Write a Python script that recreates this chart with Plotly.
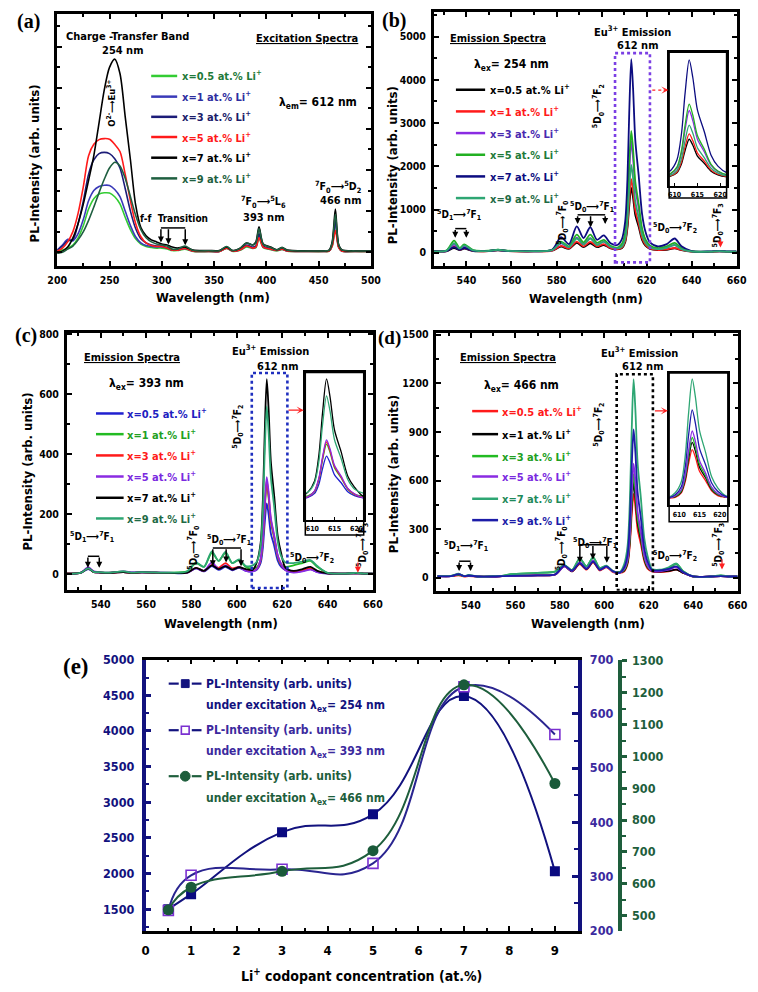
import plotly.graph_objects as go

FW, FH = 758, 992
def X(px): return px / FW
def Y(py): return 1 - py / FH

SANS = "DejaVu Sans Condensed, DejaVu Sans, sans-serif"
SERIF = "Liberation Serif, DejaVu Serif, serif"

# ---------------- data ----------------
LI = ["0.5", "1", "3", "5", "7", "9"]

# (a) excitation spectra, lambda_em = 612 nm
EXC_WL = [200, 205, 210, 215, 220, 225, 230, 235, 240, 245, 250, 255, 260, 265, 270, 275, 280, 285, 290, 295,
          300, 305, 310, 315, 322, 330, 345, 355, 362, 368, 375, 381, 387, 390, 393, 397, 404, 410, 415, 420,
          440, 455, 460, 463, 466, 469, 472, 485, 500]
A_X05 = [0.5, 1, 2, 3.5, 7, 13, 21, 26, 28.3, 28.9, 28.8, 27, 23.5, 17, 11, 6.5, 4, 2.8, 2.3, 2,
         2, 1.6, 0.8, 0.8, 1.5, 0.4, 0.3, 0.3, 1.8, 0.4, 1, 2.5, 1.8, 2.2, 7, 2.2, 1.3, 0.7, 1.3, 0.5,
         0.3, 0.3, 0.5, 3, 15, 2.5, 0.5, 0.3, 0.3]
A_X1 = [1, 3.5, 6.3, 5.5, 9, 16, 25, 30, 32, 32.6, 32.5, 30.5, 27, 20, 13, 7.5, 4.5, 3.2, 2.8, 2.5,
        2.5, 2, 1, 1, 1.8, 0.5, 0.4, 0.4, 2, 0.5, 1.2, 3, 2, 2.5, 8, 2.5, 1.5, 0.8, 1.5, 0.6,
        0.4, 0.4, 0.6, 3.5, 15, 2.8, 0.6, 0.4, 0.4]
A_X3 = [1, 3, 5.5, 6, 14, 25, 38, 45, 48, 48.6, 48, 45.5, 41, 31, 20, 11.5, 6.5, 4.5, 3.5, 3,
        3, 2.2, 1.2, 1.2, 2, 0.6, 0.5, 0.5, 2.2, 0.6, 1.5, 3.5, 2.5, 3, 9, 3, 1.8, 1, 1.8, 0.7,
        0.5, 0.5, 0.7, 4, 16, 3, 0.7, 0.5, 0.5]
A_X5 = [0.5, 2, 5, 10, 19, 32, 47, 52.5, 54.8, 55.3, 55, 52.5, 49, 38, 25, 14, 7.5, 4.5, 3.2, 2.8,
        2.8, 2, 1, 1, 1.8, 0.5, 0.4, 0.4, 2, 0.5, 1.2, 3, 2, 2.5, 7, 2.5, 1.5, 0.8, 1.5, 0.6,
        0.4, 0.4, 0.6, 3, 10.5, 2.5, 0.6, 0.4, 0.4]
A_X7 = [-0.5, 0.5, 2.5, 7, 14, 23.5, 35, 47, 63, 79, 90, 94, 87, 66, 45, 23, 12, 8, 6, 5,
        4, 3.5, 2.5, 2, 2.5, 1, 0.8, 0.8, 2.5, 0.8, 2, 4.5, 3.5, 5, 12.3, 4, 2.5, 1.2, 2.2, 1,
        0.6, 0.6, 1, 5, 21, 4, 1.2, 0.6, 0.6]
A_X9 = [-0.5, 0, 1.5, 3, 6, 10, 15.5, 22, 29, 35.5, 41, 43.8, 42, 36, 27, 18, 11, 7, 5, 4,
        3.5, 3, 1.5, 1.5, 3, 0.8, 0.7, 0.7, 2.8, 0.7, 2, 4.5, 3.5, 4.5, 11.5, 3.8, 2.3, 1.1, 2.2, 0.9,
        0.6, 0.6, 0.9, 4.5, 18.5, 3.8, 1.1, 0.6, 0.6]

# emission spectra wavelength grid (b, c, d)
EM_WL = [525, 531, 534.5, 537, 539, 543, 550, 554, 558, 570, 578, 582, 585.5, 589, 592, 595, 598, 601, 604, 607,
         609, 610.5, 611.5, 612.3, 613.2, 614, 615, 616.5, 618, 619.5, 621.5, 625, 629, 632.5, 635.5, 640, 648,
         652.5, 656, 660]
# (b) lambda_ex = 254 nm
B_X05 = [30, 35, 110, 60, 95, 40, 40, 55, 40, 30, 50, 140, 90, 230, 130, 220, 130, 180, 100, 80,
         105, 240, 570, 1080, 1500, 1275, 870, 600, 300, 165, 90, 60, 70, 100, 60, 25, 20, 30, 20, 20]
B_X1 = [30, 35, 150, 70, 110, 45, 40, 60, 40, 30, 50, 160, 100, 260, 150, 250, 150, 200, 110, 85,
        120, 270, 650, 1225, 1700, 1445, 985, 680, 340, 185, 100, 65, 80, 110, 65, 25, 20, 30, 20, 20]
B_X3 = [35, 40, 190, 85, 140, 50, 45, 65, 45, 35, 60, 220, 130, 350, 200, 340, 190, 260, 140, 110,
        180, 410, 980, 1860, 2580, 2190, 1500, 1030, 520, 285, 150, 90, 120, 180, 90, 30, 25, 35, 25, 25]
B_X5 = [40, 50, 280, 110, 195, 60, 50, 75, 50, 40, 70, 260, 150, 420, 240, 420, 230, 300, 160, 120,
        200, 450, 1070, 2030, 2820, 2400, 1640, 1130, 560, 310, 170, 110, 150, 230, 110, 35, 25, 40, 25, 25]
B_X7 = [35, 40, 130, 70, 110, 45, 45, 60, 45, 40, 70, 360, 200, 610, 340, 590, 300, 400, 220, 180,
        310, 720, 1700, 3230, 4480, 3810, 2600, 1790, 900, 490, 240, 150, 200, 330, 150, 40, 30, 45, 30, 30]
B_X9 = [35, 45, 220, 95, 170, 55, 45, 70, 45, 35, 60, 230, 130, 330, 190, 330, 180, 260, 140, 100,
        140, 325, 770, 1460, 2030, 1725, 1180, 810, 410, 225, 120, 85, 115, 180, 85, 30, 25, 35, 25, 25]
# (c) lambda_ex = 393 nm
C_X05 = [3, 5, 18, 8, 6, 5, 8, 5, 6, 5, 5, 20, 10, 28, 15, 25, 14, 22, 12, 10,
         17, 38, 90, 171, 237, 201, 137, 95, 47, 26, 14, 8, 12, 18, 8, 3, 3, 4, 3, 3]
C_X1 = [3, 5, 20, 8, 8, 6, 10, 6, 8, 6, 10, 38, 25, 72, 45, 72, 38, 48, 25, 20,
        25, 48, 115, 217, 302, 257, 175, 121, 60, 33, 25, 30, 38, 45, 25, 5, 3, 5, 3, 3]
C_X3 = [4, 5, 20, 8, 7, 5, 8, 5, 7, 5, 6, 22, 12, 32, 22, 38, 20, 25, 14, 12,
        20, 50, 119, 225, 313, 266, 182, 125, 63, 34, 15, 10, 14, 20, 10, 4, 3, 4, 3, 3]
C_X5 = [3, 5, 24, 10, 8, 6, 10, 8, 8, 6, 6, 20, 12, 40, 18, 30, 16, 24, 12, 10,
        20, 52, 123, 233, 324, 275, 188, 130, 65, 36, 14, 6, 10, 16, 8, 4, 3, 4, 3, 3]
C_X7 = [3, 5, 20, 8, 7, 5, 8, 5, 7, 5, 6, 22, 12, 30, 18, 28, 16, 24, 18, 15,
        45, 105, 250, 470, 650, 553, 377, 260, 130, 72, 22, 12, 18, 25, 12, 4, 3, 4, 3, 3]
C_X9 = [3, 5, 20, 8, 8, 6, 10, 6, 8, 6, 10, 40, 25, 77, 45, 75, 38, 50, 28, 30,
        45, 95, 215, 405, 560, 476, 325, 225, 112, 62, 40, 38, 43, 48, 28, 5, 3, 5, 3, 3]
# (d) lambda_ex = 466 nm
D_X05 = [10, 10, 15, 8, 10, 8, 8, 10, 12, 15, 20, 70, 40, 85, 50, 95, 45, 65, 35, 30,
         40, 85, 200, 375, 518, 440, 300, 207, 104, 57, 40, 35, 40, 50, 30, 8, 8, 10, 8, 8]
D_X1 = [10, 10, 20, 10, 12, 8, 8, 10, 12, 15, 20, 72, 40, 90, 55, 100, 50, 68, 40, 35,
        45, 95, 225, 425, 589, 500, 342, 235, 118, 65, 42, 38, 42, 50, 30, 8, 8, 10, 8, 8]
D_X3 = [10, 12, 20, 10, 15, 8, 10, 12, 22, 30, 40, 78, 48, 118, 70, 125, 60, 72, 40, 32,
        50, 105, 245, 460, 639, 543, 370, 255, 128, 70, 45, 45, 60, 85, 40, 8, 8, 15, 8, 8]
D_X5 = [10, 10, 22, 10, 14, 8, 8, 10, 12, 15, 20, 70, 42, 95, 60, 105, 50, 68, 38, 30,
        55, 115, 270, 505, 704, 598, 408, 282, 141, 77, 42, 40, 50, 65, 35, 8, 8, 10, 8, 8]
D_X7 = [10, 12, 25, 10, 18, 8, 10, 12, 22, 30, 38, 78, 48, 120, 70, 125, 60, 75, 40, 35,
        85, 195, 465, 880, 1225, 1040, 710, 490, 245, 135, 55, 50, 65, 88, 40, 8, 8, 15, 8, 8]
D_X9 = [10, 10, 22, 10, 14, 8, 8, 10, 12, 15, 22, 75, 45, 90, 55, 100, 50, 70, 40, 32,
        65, 145, 350, 660, 915, 778, 530, 366, 183, 100, 48, 45, 55, 70, 35, 8, 8, 10, 8, 8]

# (e) peak intensity vs Li+ concentration
E_LI = [0.5, 1, 3, 5, 7, 9]
E_254 = [1500, 1710, 2580, 2830, 4490, 2030]
E_393 = [237, 302, 313, 324, 650, 562]
E_466 = [518, 589, 639, 704, 1225, 915]

# colours
A_COL = ['#33cc33', '#3a3ab8', '#1c1c78', '#ff1a1a', '#000000', '#1f5f40']
A_TXT = ['#1f7a3a', '#2e2ea0', '#1c1c6a', '#ff1a1a', '#000000', '#1f5f40']
B_COL = ['#000000', '#ff1a1a', '#8a2be2', '#22b022', '#0c0c80', '#2ea673']
B_TXT = ['#000000', '#ff1a1a', '#4a2ab0', '#1f7a3a', '#0c0c80', '#1f6a45']
C_COL = ['#2020d0', '#22bb22', '#ff1a1a', '#8a2be2', '#000000', '#2ea673']
C_TXT = ['#2020c0', '#22a022', '#ff1a1a', '#7a2ae0', '#000000', '#1f6a45']
D_COL = ['#ff1a1a', '#000000', '#22bb22', '#8a2be2', '#2ea673', '#1c1ca8']
D_TXT = ['#ff1a1a', '#000000', '#22a022', '#7a2ae0', '#1f8a5a', '#1c1ca8']
NAVY = '#12127e'
INDIGO = '#3b2a9e'
DKGREEN = '#1e5e3c'

fig = go.Figure()

def add_spectra(wl, series, colors, xa, ya, width=1.8):
    for s, c in zip(series, colors):
        fig.add_trace(go.Scatter(x=wl, y=s, mode='lines',
                                 line=dict(color=c, width=width, shape='spline', smoothing=0.8),
                                 xaxis=xa, yaxis=ya, showlegend=False, hoverinfo='skip'))

A_SER = [A_X05, A_X1, A_X3, A_X5, A_X7, A_X9]
B_SER = [B_X05, B_X1, B_X3, B_X5, B_X7, B_X9]
C_SER = [C_X05, C_X1, C_X3, C_X5, C_X7, C_X9]
D_SER = [D_X05, D_X1, D_X3, D_X5, D_X7, D_X9]

add_spectra(EXC_WL, A_SER, A_COL, 'x', 'y', 1.6)
add_spectra(EM_WL, B_SER, B_COL, 'x2', 'y2', 1.8)
add_spectra(EM_WL, C_SER, C_COL, 'x3', 'y3', 1.8)
add_spectra(EM_WL, D_SER, D_COL, 'x4', 'y4', 1.8)
add_spectra(EM_WL, B_SER, B_COL, 'x6', 'y6', 1.3)
add_spectra(EM_WL, C_SER, C_COL, 'x7', 'y7', 1.3)
add_spectra(EM_WL, D_SER, D_COL, 'x8', 'y8', 1.3)

fig.add_trace(go.Scatter(x=E_LI, y=E_254, mode='lines+markers', xaxis='x5', yaxis='y5',
                         line=dict(color=NAVY, width=2, shape='spline', smoothing=1.3),
                         marker=dict(symbol='square', size=10, color='#0a0a80'), showlegend=False))
fig.add_trace(go.Scatter(x=E_LI, y=E_393, mode='lines+markers', xaxis='x5', yaxis='y9',
                         line=dict(color='#2a2590', width=2, shape='spline', smoothing=1.3),
                         marker=dict(symbol='square-open', size=10, color='#7a30d0', line=dict(width=1.6)),
                         showlegend=False))
fig.add_trace(go.Scatter(x=E_LI, y=E_466, mode='lines+markers', xaxis='x5', yaxis='y10',
                         line=dict(color=DKGREEN, width=2, shape='spline', smoothing=1.3),
                         marker=dict(symbol='circle', size=11, color='#1a5a3a'), showlegend=False))

# ---------------- axes ----------------
def tf(size=10.5, color='black'):
    return dict(family=SANS, size=size, color=color, weight='bold')

def frame(domain, rng, dtick, mdtick, anchor, labels=True, size=10.5, tick0=0, lw=2.5):
    return dict(domain=domain, range=rng, anchor=anchor, showline=True, linewidth=lw, linecolor='black',
                mirror='ticks', ticks='inside', ticklen=5, tickwidth=2, tickcolor='black',
                dtick=dtick, tick0=tick0, showgrid=False, zeroline=False, showticklabels=labels,
                tickfont=tf(size), ticklabelstandoff=3,
                minor=dict(ticks='inside', ticklen=3, tickwidth=1.5, tickcolor='black', dtick=mdtick, showgrid=False))

def inset_x(domain, rng, anchor):
    return dict(domain=domain, range=rng, anchor=anchor, showline=True, linewidth=1.5, linecolor='black',
                mirror=True, ticks='inside', ticklen=3, tickwidth=1.2, tickcolor='black', dtick=5, tick0=0,
                showgrid=False, zeroline=False, tickfont=tf(7), ticklabelstandoff=1)

def inset_y(domain, rng, anchor):
    return dict(domain=domain, range=rng, anchor=anchor, showline=True, linewidth=1.5, linecolor='black',
                mirror=True, ticks='', showticklabels=False, showgrid=False, zeroline=False)

layout = dict(
    width=FW, height=FH, margin=dict(l=0, r=0, t=0, b=0),
    paper_bgcolor='white', plot_bgcolor='white', showlegend=False,
    font=dict(family=SANS, size=11, color='black', weight='bold'),
    xaxis=frame([X(48.5), X(370.7)], [200, 500], 50, 25, 'y'),
    yaxis=frame([Y(261.7), Y(6)], [-6.6, 116], 20, 10, 'x', labels=False),
    xaxis2=frame([X(435.3), X(746.3)], [525.5, 660], 20, 10, 'y2'),
    yaxis2=frame([Y(261.7), Y(4)], [-300, 5570], 1000, 500, 'x2'),
    xaxis3=frame([X(58.3), X(372.7)], [525, 660], 20, 10, 'y3'),
    yaxis3=frame([Y(591), Y(330)], [-52, 804], 200, 100, 'x3'),
    xaxis4=frame([X(438), X(747.3)], [524.5, 660], 20, 10, 'y4'),
    yaxis4=frame([Y(591.7), Y(330)], [-80, 1510], 300, 150, 'x4'),
    xaxis5=frame([X(139.3), X(583)], [0, 9.5], 1, 0.5, 'y5', size=13),
    xaxis6=inset_x([X(677), X(736)], [608.8, 621.4], 'y6'),
    yaxis6=inset_y([Y(180.7), Y(45)], [-255, 4765], 'x6'),
    xaxis7=inset_x([X(303.3), X(363.3)], [608.4, 621.6], 'y7'),
    yaxis7=inset_y([Y(520), Y(370)], [-105, 685], 'x7'),
    xaxis8=inset_x([X(677), X(737.3)], [607.5, 622], 'y8'),
    yaxis8=inset_y([Y(505), Y(370.7)], [-41, 1284], 'x8'),
)
layout['xaxis5']['ticklabelstandoff'] = 6
layout['yaxis5'] = dict(domain=[Y(936.7), Y(661.7)], anchor='x5', range=[1200, 5000], dtick=500, tick0=0,
                        showline=True, linewidth=3.5, linecolor=NAVY, ticks='inside', ticklen=6, tickwidth=2.5,
                        tickcolor=NAVY, showgrid=False, zeroline=False, tickfont=tf(12.5, NAVY),
                        ticklabelstandoff=5,
                        minor=dict(ticks='inside', ticklen=4, tickwidth=2, tickcolor=NAVY, dtick=250))
layout['yaxis9'] = dict(overlaying='y5', side='right', anchor='x5', range=[200, 700], dtick=100, tick0=0,
                        showline=True, linewidth=3.5, linecolor=NAVY, ticks='inside', ticklen=6, tickwidth=2.5,
                        tickcolor=NAVY, showgrid=False, zeroline=False, tickfont=tf(12.5, INDIGO),
                        ticklabelstandoff=6,
                        minor=dict(ticks='inside', ticklen=4, tickwidth=2, tickcolor=NAVY, dtick=50))
layout['yaxis10'] = dict(overlaying='y5', side='right', anchor='free', position=X(626.3), range=[453, 1304],
                         dtick=100, tick0=0, showline=True, linewidth=3.5, linecolor=DKGREEN, ticks='outside',
                         ticklen=5, tickwidth=2.5, tickcolor=DKGREEN, showgrid=False, zeroline=False,
                         tickfont=tf(12.5, DKGREEN), ticklabelstandoff=3,
                         minor=dict(ticks='outside', ticklen=4, tickwidth=2, tickcolor=DKGREEN, dtick=50))

annotations = []
shapes = []

def txt(s, px, py, size=11, color='black', angle=0, xanchor='center', family=SANS):
    annotations.append(dict(text=s, x=X(px), y=Y(py), xref='paper', yref='paper', showarrow=False,
                            font=dict(family=family, size=size, color=color, weight='bold'),
                            textangle=angle, xanchor=xanchor, yanchor='middle'))

def arrow(hx, hy, tx, ty, color='black', width=1.2, head=2, size=1.0):
    annotations.append(dict(text='', x=X(hx), y=Y(hy), ax=tx - hx, ay=ty - hy, xref='paper', yref='paper',
                            axref='pixel', ayref='pixel', showarrow=True, arrowhead=head, arrowsize=size,
                            arrowwidth=width, arrowcolor=color))

def seg(x0, y0, x1, y1, color='black', width=1.5, dash='solid'):
    shapes.append(dict(type='line', xref='paper', yref='paper', x0=X(x0), y0=Y(y0), x1=X(x1), y1=Y(y1),
                       line=dict(color=color, width=width, dash=dash)))

def prect(x0, y0, x1, y1, color='black', width=1.5, fill='rgba(0,0,0,0)', kind='rect'):
    shapes.append(dict(type=kind, xref='paper', yref='paper', x0=X(x0), y0=Y(y0), x1=X(x1), y1=Y(y1),
                       line=dict(color=color, width=width), fillcolor=fill))

def bracket(xs, ytop, ybots, width=1.5):
    seg(xs[0], ytop, xs[-1], ytop, width=width)
    for x, yb in zip(xs, ybots):
        arrow(x, yb, x, ytop, width=width, head=2, size=0.8)

def legend_block(x0, x1, tx, ys, cols, tcols, size=11):
    for y, c, tc, li in zip(ys, cols, tcols, LI):
        seg(x0, y, x1, y, c, 2.5)
        txt(f"x={li} at.% Li<sup>+</sup>", tx, y, size, tc, xanchor='left')

ARR = '⟶'
D5F = lambda n: f"<sup>5</sup>D<sub>0</sub>{ARR}<sup>7</sup>F<sub>{n}</sub>"
D1F1 = f"<sup>5</sup>D<sub>1</sub>{ARR}<sup>7</sup>F<sub>1</sub>"

# ---- panel (a)
txt('(a)', 19, 14, 20, family=SERIF)
txt('Charge -Transfer Band', 120.5, 29.3, 11)
txt('254 nm', 116, 43.3, 11)
txt('<u>Excitation Spectra</u>', 305.5, 30.7, 11)
txt('λ<sub>em</sub>= 612 nm', 316.5, 96, 12)
txt(f"O<sup>2-</sup>{ARR}Eu<sup>3+</sup>", 104.3, 96.7, 9.5, angle=-90)
legend_block(145, 171.7, 175, [69, 90, 110.5, 131, 152, 173], A_COL, A_TXT)
txt('f-f  Transition', 168, 213.3, 10)
bracket([155, 162.7, 180], 223.3, [238, 240, 241])
txt(f"<sup>7</sup>F<sub>0</sub>{ARR}<sup>5</sup>L<sub>6</sub>", 260, 196.7, 10.5)
txt('393 nm', 260, 213, 11)
txt(f"<sup>7</sup>F<sub>0</sub>{ARR}<sup>5</sup>D<sub>2</sub>", 337, 181.7, 10.5)
txt('466 nm', 339, 195, 11)
txt('PL-Intensity (arb. units)', 25.5, 158, 13, angle=-90)
txt('Wavelength (nm)', 209, 294, 13)

# ---- panel (b)
txt('(b)', 394, 13, 20, family=SERIF)
txt('<u>Emission Spectra</u>', 501, 30.7, 11)
txt('λ<sub>ex</sub>= 254 nm', 515, 58.3, 12)
legend_block(458, 488, 491.3, [83, 105, 127, 149, 171, 193], B_COL, B_TXT)
txt('Eu<sup>3+</sup> Emission', 639, 24, 11)
txt('612 nm', 644, 38, 11)
txt(D5F(2), 604.7, 100, 10, angle=-90)
txt(D1F1, 461, 210, 10)
bracket([457.3, 468.7], 224, [233.3, 233.3])
txt(D5F(0), 567, 218, 10, angle=-90)
txt(D5F(1), 598, 201.7, 10)
bracket([583, 596.3, 611.3], 210, [219.3, 222.7, 219.3])
txt(D5F(2), 683, 223.3, 10)
txt(D5F(3), 727, 221, 10, angle=-90)
arrow(729.7, 243.3, 729.7, 233, color='#ff2020', width=1.2)
shapes.append(dict(type='rect', xref='x2', yref='y2', x0=606, x1=621.5, y0=-223, y1=4617,
                   line=dict(color='#7b3fe4', width=2.6, dash='dot')))
seg(659.7, 83.3, 672, 83.3, '#ff2020', 1.2, 'dot')
arrow(676.3, 83.3, 670, 83.3, color='#ff2020', width=1.2, head=3)
prect(677, 45, 736, 193)
txt('PL-Intensity (arb. units)', 393, 160, 13, angle=-90)
txt('Wavelength (nm)', 591.3, 295, 13)

# ---- panel (c)
txt('(c)', 16, 333, 20, family=SERIF)
txt('<u>Emission Spectra</u>', 125, 355, 11)
txt('λ<sub>ex</sub>= 393 nm', 140, 381.7, 12)
legend_block(88.3, 116.7, 118.3, [411.7, 432.7, 454.3, 475.7, 497.3, 518.3], C_COL, C_TXT)
txt('Eu<sup>3+</sup> Emission', 268, 348, 11)
txt('612 nm', 275, 363.5, 11)
txt(D5F(2), 233.3, 425, 10, angle=-90)
txt(D1F1, 84, 537.3, 10)
bracket([80, 91.7], 556.7, [568.3, 568.3])
txt(D5F(0), 188, 548, 10, angle=-90)
txt(D5F(1), 225, 540, 10)
bracket([208.3, 222, 237.3], 548.3, [566.7, 563, 566.7])
txt(D5F(2), 310, 558.3, 10)
txt(D5F(3), 361.7, 545, 10, angle=-90)
arrow(357.3, 573.3, 357.3, 561.7, color='#ff2020', width=1.2)
shapes.append(dict(type='rect', xref='x3', yref='y3', x0=606.6, x1=622.3, y0=-45, y1=671,
                   line=dict(color='#1f2fbf', width=2.6, dash='dot')))
arrow(301.7, 408.3, 285, 408.3, color='#ff2020', width=1.2, head=3)
prect(303.3, 370, 363.3, 535)
txt('PL-Intensity (arb. units)', 18.3, 470.8, 13, angle=-90)
txt('Wavelength (nm)', 216.7, 625, 13)

# ---- panel (d)
txt('(d)', 390, 335, 19, family=SERIF)
txt('<u>Emission Spectra</u>', 512, 355, 11)
txt('λ<sub>ex</sub>= 466 nm', 525, 383.3, 12)
legend_block(474.7, 501.3, 503, [409.3, 432.7, 455, 475.7, 498.3, 520], D_COL, D_TXT)
txt('Eu<sup>3+</sup> Emission', 646.3, 349.5, 11)
txt('612 nm', 650, 364.5, 11)
txt(D5F(2), 604.7, 423.3, 10, angle=-90)
txt(D1F1, 468, 546.7, 10)
bracket([461.3, 473], 561.7, [571.7, 571.7])
txt(D5F(0), 566.3, 548.3, 10, angle=-90)
txt(D5F(1), 601, 543.3, 10)
bracket([585.3, 598.7, 613], 545, [563.3, 560, 563.3])
txt(D5F(2), 683, 556.7, 10)
txt(D5F(3), 727.3, 545, 10, angle=-90)
arrow(731.3, 570, 731.3, 558.3, color='#ff2020', width=1.2)
shapes.append(dict(type='rect', xref='x4', yref='y4', x0=605.6, x1=621.9, y0=-75, y1=1256,
                   line=dict(color='black', width=2.6, dash='dot')))
arrow(675.7, 409, 661.3, 409, color='#ff2020', width=1.2, head=3)
prect(677, 370.7, 737.3, 521.7)
txt('PL-Intensity (arb. units)', 394.7, 473, 13, angle=-90)
txt('Wavelength (nm)', 594, 625, 13)

# ---- panel (e)
txt('(e)', 68, 668.3, 23, family=SERIF)
E_LEG = [(686, 708.3, '254', NAVY, 'sq'), (733.3, 755.7, '393', INDIGO, 'open'), (780, 802.7, '466', DKGREEN, 'dot')]
for y1, y2, lam, col, kind in E_LEG:
    lc = DKGREEN if kind == 'dot' else NAVY
    seg(163, y1, 173.3, y1, lc, 2.2)
    seg(186.7, y1, 196.7, y1, lc, 2.2)
    if kind == 'sq':
        prect(176, y1 - 4, 184, y1 + 4, color=NAVY, width=1, fill=NAVY)
    elif kind == 'open':
        prect(176, y1 - 4, 184, y1 + 4, color='#7a30d0', width=1.6, fill='white')
    else:
        prect(175, y1 - 5, 185, y1 + 5, color=DKGREEN, width=1, fill=DKGREEN, kind='circle')
    txt('PL-Intensity (arb. units)', 199.3, y1, 12, col, xanchor='left')
    txt(f'under excitation λ<sub>ex</sub>= {lam} nm', 199.3, y2, 12, col, xanchor='left')
txt('Li<sup>+</sup> codopant concentration (at.%)', 361, 981.7, 14)

layout['annotations'] = annotations
layout['shapes'] = shapes
fig.update_layout(**layout)
fig.write_html('out.html')
